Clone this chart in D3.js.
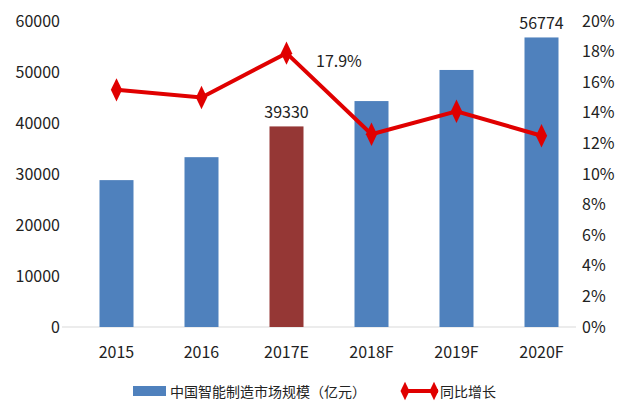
<!DOCTYPE html>
<html><head><meta charset="utf-8">
<script src="https://cdn.jsdelivr.net/npm/d3@7"></script>
<style>body{margin:0;background:#fff}text{font-family:"Noto Sans CJK SC","DejaVu Sans",sans-serif;fill:#222}</style>
</head><body><svg width="640" height="409"></svg>
<script>
var years = ['2015', '2016', '2017E', '2018F', '2019F', '2020F'];
var market = [28800, 33300, 39330, 44300, 50400, 56774];
var growth = [15.5, 15.0, 17.9, 12.6, 14.1, 12.5];
var leftTicks = [0, 10000, 20000, 30000, 40000, 50000, 60000];
var rightTicks = [0, 2, 4, 6, 8, 10, 12, 14, 16, 18, 20];

var svg = d3.select('svg');
var x = d3.scaleBand().domain(years).range([74, 584]).paddingInner(0.6).paddingOuter(0.3);
var y = d3.scaleLinear().domain([0, 60000]).range([327, 21]);
var y2 = d3.scaleLinear().domain([0, 20]).range([327, 21]);

svg.append('line').attr('x1', 62).attr('x2', 576).attr('y1', y(0)).attr('y2', y(0))
    .attr('stroke', '#d9d9d9');

var ly = svg.append('g').attr('transform', 'translate(60,0)')
    .call(d3.axisLeft(y).tickValues(leftTicks).tickSize(0).tickPadding(0).tickFormat(d3.format('d')));
var ry = svg.append('g').attr('transform', 'translate(582,0)')
    .call(d3.axisRight(y2).tickValues(rightTicks).tickSize(0).tickPadding(0).tickFormat(function(d) { return d + '%'; }));
var bx = svg.append('g').attr('transform', 'translate(0,' + (y(0) + 20) + ')')
    .call(d3.axisBottom(x).tickSize(0).tickPadding(0));
[ly, ry, bx].forEach(function(g) {
    g.select('.domain').remove();
    g.selectAll('text').attr('font-size', 16).style('fill', '#222');
});

svg.selectAll('rect.bar').data(years).enter().append('rect')
    .attr('x', function(d) { return x(d); })
    .attr('width', x.bandwidth())
    .attr('y', function(d, i) { return y(market[i]); })
    .attr('height', function(d, i) { return y(0) - y(market[i]); })
    .attr('fill', function(d) { return d === '2017E' ? '#953735' : '#4f81bd'; });

var line = d3.line()
    .x(function(d, i) { return x(years[i]) + x.bandwidth() / 2; })
    .y(function(d) { return y2(d); });
svg.append('path').datum(growth).attr('d', line)
    .attr('fill', 'none').attr('stroke', '#e00000').attr('stroke-width', 4);
svg.selectAll('path.dot').data(growth).enter().append('path')
    .attr('d', d3.symbol().type(d3.symbolDiamond).size(110))
    .attr('transform', function(d, i) { return 'translate(' + (x(years[i]) + x.bandwidth() / 2) + ',' + y2(d) + ') scale(1,1.2)'; })
    .attr('fill', '#e00000');

svg.append('text').attr('x', x('2017E') + x.bandwidth() / 2).attr('y', y(39330) - 8)
    .attr('text-anchor', 'middle').attr('font-size', 16).text('39330');
svg.append('text').attr('x', x('2020F') + x.bandwidth() / 2).attr('y', y(56774) - 8)
    .attr('text-anchor', 'middle').attr('font-size', 16).text('56774');
svg.append('text').attr('x', 316).attr('y', y2(17.9) + 14)
    .attr('font-size', 16).text('17.9%');

// legend
svg.append('rect').attr('x', 133).attr('y', 386).attr('width', 33).attr('height', 10).attr('fill', '#4f81bd');
svg.append('text').attr('x', 170).attr('y', 397).attr('font-size', 14).text('中国智能制造市场规模（亿元）');
svg.append('line').attr('x1', 402).attr('x2', 438).attr('y1', 391).attr('y2', 391)
    .attr('stroke', '#e00000').attr('stroke-width', 4);
[405, 434].forEach(function(cx) {
    svg.append('path').attr('d', d3.symbol().type(d3.symbolDiamond).size(70)())
        .attr('transform', 'translate(' + cx + ',391) scale(1,1.2)').attr('fill', '#e00000');
});
svg.append('text').attr('x', 440).attr('y', 397).attr('font-size', 14).text('同比增长');
</script></body></html>
